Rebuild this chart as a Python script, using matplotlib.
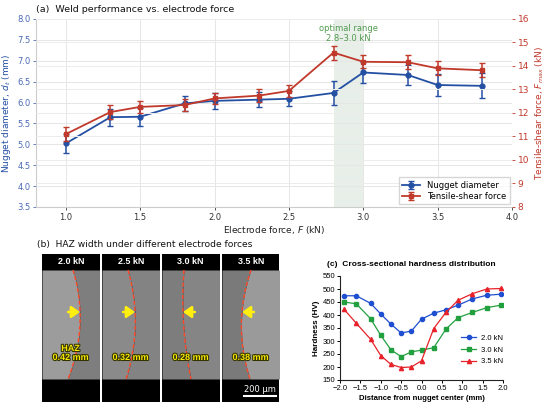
import numpy as np
import matplotlib
matplotlib.use("Agg")
import matplotlib.pyplot as plt
import matplotlib.patheffects as pe

# ---- data: panel (a) ----
force = [1.0, 1.3, 1.5, 1.8, 2.0, 2.3, 2.5, 2.8, 3.0, 3.3, 3.5, 3.8]
nugget = [5.02, 5.65, 5.66, 5.98, 6.04, 6.07, 6.09, 6.23, 6.72, 6.66, 6.42, 6.40]
nugget_err = [0.22, 0.20, 0.21, 0.18, 0.20, 0.18, 0.18, 0.28, 0.25, 0.25, 0.27, 0.30]
shear = [11.10, 12.04, 12.26, 12.34, 12.62, 12.74, 12.94, 14.57, 14.18, 14.16, 13.90, 13.82]
shear_err = [0.30, 0.28, 0.27, 0.27, 0.25, 0.27, 0.25, 0.30, 0.28, 0.30, 0.30, 0.30]
opt_lo, opt_hi = 2.8, 3.0

# ---- data: panel (b) ----
haz_force = ["2.0 kN", "2.5 kN", "3.0 kN", "3.5 kN"]
haz_width = [0.42, 0.32, 0.28, 0.38]

# ---- data: panel (c) ----
dist = [-1.9, -1.6, -1.25, -1.0, -0.75, -0.5, -0.25, 0.0, 0.3, 0.6, 0.9, 1.25, 1.6, 1.95]
hv_20 = [474, 474, 445, 404, 365, 331, 338, 384, 407, 420, 438, 462, 476, 480]
hv_30 = [450, 443, 386, 322, 266, 240, 258, 265, 274, 346, 390, 410, 428, 438]
hv_35 = [422, 368, 307, 244, 210, 198, 200, 224, 348, 410, 457, 482, 500, 502]

BLUE = "#2450a4"
RED = "#c0392b"
W, H = 550, 413

fig = plt.figure(figsize=(5.5, 4.13), dpi=100)

# ─── (a) weld performance ───────────────────────────────────────────────
ax1 = fig.add_axes([36 / W, 1 - 207 / H, 476 / W, 188 / H])
ax2 = ax1.twinx()

ax1.axvspan(opt_lo, opt_hi, color="#6a9a6a", alpha=0.15, lw=0, zorder=0)
ax1.text((opt_lo + opt_hi) / 2, 7.66, "optimal range\n2.8–3.0 kN", ha="center",
         va="center", fontsize=6, color="#4f9a4f", linespacing=1.1)

h1 = ax1.errorbar(force, nugget, yerr=nugget_err, fmt="o-", color=BLUE, ms=3.5,
                  lw=1.3, elinewidth=1.1, capsize=2, capthick=1, label="Nugget diameter")
h2 = ax2.errorbar(force, shear, yerr=shear_err, fmt="s-", color=RED, ms=3.5,
                  lw=1.3, elinewidth=1.1, capsize=2, capthick=1, label="Tensile-shear force")

ax1.set_xlim(0.8, 4.0)
ax1.set_ylim(3.5, 8.0)
ax2.set_ylim(8, 16)
ax1.set_xticks(np.arange(1.0, 4.01, 0.5))
ax1.set_yticks(np.arange(3.5, 8.01, 0.5))
ax2.set_yticks(range(8, 17))
ax1.grid(True, color="#e6e6e6", lw=0.7)
ax2.grid(True, axis="y", color="#ececec", lw=0.7)
ax1.set_axisbelow(True)

for sp in ax1.spines.values():
    sp.set_visible(False)
for sp in ax2.spines.values():
    sp.set_visible(False)
ax1.spines["left"].set_visible(True)
ax1.spines["left"].set_color("#cccccc")
ax1.spines["bottom"].set_visible(True)
ax1.spines["bottom"].set_color("#cccccc")

ax1.tick_params(axis="y", labelsize=6, colors="#4a6ab8", length=2, width=0.6, pad=2)
ax1.tick_params(axis="x", labelsize=6, colors="#333333", length=2, width=0.6, pad=2)
ax2.tick_params(axis="y", labelsize=6.5, colors=RED, length=2, width=0.6, pad=2)
ax1.set_ylabel("Nugget diameter, $d_t$ (mm)", fontsize=6.5, color=BLUE, labelpad=3)
ax2.set_ylabel("Tensile-shear force, $F_{max}$ (kN)", fontsize=6.5, color=RED, labelpad=3)
ax1.set_xlabel("Electrode force, $F$ (kN)", fontsize=6.5, color="#222222", labelpad=2)

ax2.legend([h1, h2], ["Nugget diameter", "Tensile-shear force"], loc="lower right",
           fontsize=6, frameon=True, edgecolor="#cccccc", fancybox=False,
           borderpad=0.4, handlelength=2.2, labelspacing=0.3, borderaxespad=0.3)

fig.text(36 / W, 1 - 10 / H, "(a)  Weld performance vs. electrode force",
         fontsize=6.8, va="center", ha="left", color="#111111")

# ─── (b) HAZ micrographs ────────────────────────────────────────────────
fig.text(37 / W, 1 - 245 / H, "(b)  HAZ width under different electrode forces",
         fontsize=6.6, va="center", ha="left", color="#111111")

axb = fig.add_axes([42 / W, 1 - 402 / H, 237 / W, 148 / H])
axb.set_xlim(0, 237)
axb.set_ylim(148, 0)
axb.axis("off")

pw, step = 57.5, 60
y_top, y_img, y_bot, y_end = 0, 16, 125, 148
# boundary x (panel-local) at top / middle / bottom of the micrograph
bnd = [(31, 38, 26), (26, 33, 24), (22, 21, 29), (29, 20, 28)]
shade = [("#9c9c9c", "#7e7e7e"), ("#8a8a8a", "#838383"),
         ("#7d7d7d", "#858585"), ("#7a7a7a", "#9a9a9a")]
arrow_dir = [1, 1, -1, -1]

yy = np.linspace(y_img, y_bot, 60)
for k in range(4):
    x0 = k * step
    c = np.polyfit([y_img, 58, y_bot], bnd[k], 2)
    bx = x0 + np.polyval(c, yy)
    axb.add_patch(plt.Rectangle((x0, y_top), pw, y_end, color="black", lw=0))
    axb.fill_betweenx(yy, x0, bx, color=shade[k][0], lw=0)
    axb.fill_betweenx(yy, bx, x0 + pw, color=shade[k][1], lw=0)
    axb.plot(bx, yy, color="#ff4a2a", lw=1.0, ls=(0, (3, 1.5)))
    axb.text(x0 + pw / 2, 8, haz_force[k], color="white", fontsize=6.5,
             fontweight="bold", ha="center", va="center", family="Liberation Sans")
    tip = x0 + np.polyval(c, 58)
    axb.annotate("", xy=(tip, 58), xytext=(tip - 12 * arrow_dir[k], 58),
                 arrowprops=dict(arrowstyle="-|>,head_length=0.5,head_width=0.35",
                                 color="#ffee10", lw=1.8, shrinkA=0, shrinkB=0))
    stroke = [pe.withStroke(linewidth=1.5, foreground="#333300")]
    label = f"{haz_width[k]:.2f} mm"
    if k == 0:
        label = "HAZ\n" + label
    axb.text(x0 + 28.5, 108, label, color="#f5e600", fontsize=6.5,
             fontweight="bold", ha="center", va="bottom", family="Liberation Sans",
             linespacing=1.0, path_effects=stroke)

axb.plot([3 * step + 22, 3 * step + 54], [142, 142], color="white", lw=1.5)
axb.text(3 * step + 38, 135, "200 μm", color="white", fontsize=6, ha="center",
         va="center")

# ─── (c) hardness distribution ──────────────────────────────────────────
axc = fig.add_axes([340 / W, 1 - 380 / H, 163 / W, 104 / H])
axc.plot(dist, hv_20, "o-", color="#1f4fd0", ms=3, lw=0.9, label="2.0 kN")
axc.plot(dist, hv_30, "s-", color="#22a040", ms=3, lw=0.9, label="3.0 kN")
axc.plot(dist, hv_35, "^-", color="#e8222a", ms=3, lw=0.9, label="3.5 kN")
axc.set_xlim(-2.0, 2.0)
axc.set_ylim(150, 550)
axc.set_xticks(np.arange(-2.0, 2.01, 0.5))
axc.set_yticks(range(150, 551, 50))
axc.set_xticklabels([f"{v:.1f}".replace("-", "−") for v in np.arange(-2.0, 2.01, 0.5)])
for sp in ["top", "right"]:
    axc.spines[sp].set_visible(False)
for sp in ["left", "bottom"]:
    axc.spines[sp].set_linewidth(0.8)
    axc.spines[sp].set_color("#222222")
axc.tick_params(labelsize=5.5, length=2, width=0.7, pad=1.5)
for t in axc.get_xticklabels() + axc.get_yticklabels():
    t.set_family("Liberation Sans")
axc.set_ylabel("Hardness (HV)", fontsize=5.8, fontweight="bold",
               family="Liberation Sans", labelpad=2)
axc.set_xlabel("Distance from nugget center (mm)", fontsize=5.6, fontweight="bold",
               family="Liberation Sans", labelpad=2)
axc.legend(loc="center left", bbox_to_anchor=(0.70, 0.29), frameon=False,
           prop={"family": "Liberation Sans", "size": 5.5}, handlelength=2.0,
           labelspacing=0.6, handletextpad=0.6)
fig.text(327 / W, 1 - 265 / H, "(c)  Cross-sectional hardness distribution",
         fontsize=6.0, fontweight="bold", family="Liberation Sans",
         va="center", ha="left")

fig.savefig("out.png", dpi=100)
